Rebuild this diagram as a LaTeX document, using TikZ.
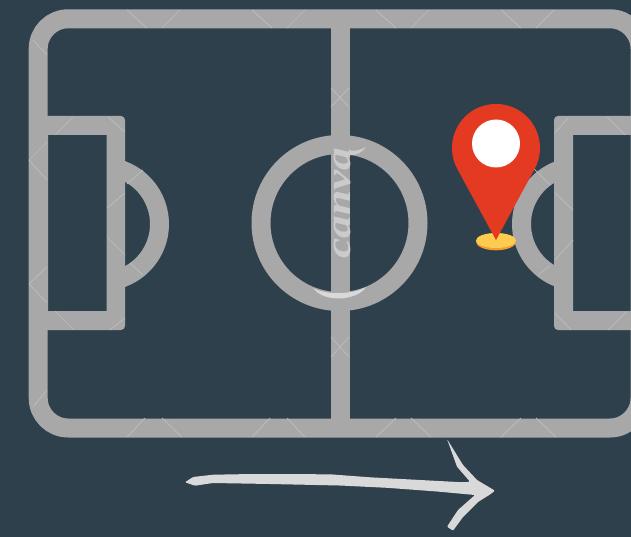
\documentclass[tikz,border=0pt]{standalone}
\usepackage{fontspec}
\newfontfamily\markfont[ItalicFont={Liberation Serif Italic},BoldItalicFont={Liberation Serif Bold Italic}]{Liberation Serif}
\definecolor{bgc}{HTML}{2F404D}
\definecolor{linec}{HTML}{A8A8A8}
\definecolor{markc}{HTML}{BEBEBE}
\definecolor{redc}{HTML}{E43A22}
\definecolor{yelc}{HTML}{FDCB4E}
\definecolor{orac}{HTML}{EFA02C}
\definecolor{chalk}{HTML}{D9D9D9}
\definecolor{wmtext}{HTML}{CBCBCB}
\tikzset{
  fieldline/.style={draw=linec,line width=19pt},
  fieldfill/.style={fill=linec,even odd rule},
  wm/.style={draw=markc,line width=0.7pt}
}
\begin{document}
\begin{tikzpicture}[x=1pt,y=1pt,yscale=-1]
\useasboundingbox (0,0) rectangle (631,537);
\clip (0,0) rectangle (631,537);
\fill[bgc] (0,0) rectangle (631,537);
% outer boundary, halfway line, centre circle
\draw[fieldline,rounded corners=30pt] (38.2,18.8) rectangle (640,428);
\draw[fieldline] (340,18.8) -- (340,428);
\draw[fieldline] (339.5,223) circle[radius=78.5];
% penalty arcs
\draw[fieldline] (102,224) ++(-76:57.5) arc (-76:76:57.5);
\draw[fieldline] (579,224) ++(104:57.5) arc (104:256:57.5);
% penalty boxes
\fill[fieldfill] [rounded corners=4pt] (38,116) -- (125,116) -- (125,330) -- (38,330) [sharp corners] -- cycle
  (48,135) rectangle (106.5,311);
\fill[fieldfill] [rounded corners=4pt] (640,116) -- (554,116) -- (554,330) -- (640,330) [sharp corners] -- cycle
  (573,135) rectangle (640,311);
% embossed diagonal marks
\foreach \a/\b/\c/\d in {
 127/10/147/28, 180/10/162/28, 252/10/272/28, 305/10/287/28,
 376/10/396/28, 429/10/411/28, 501/10/521/28, 554/10/536/28,
 145/418/127/437, 162/418/182/437, 270/418/252/437, 287/418/305/437,
 396/418/376/437, 411/418/431/437, 521/418/501/437, 536/418/556/437,
 33/40/47/55, 29/160/47/142, 29/160/47/180, 29/284/47/267, 29/284/47/303, 47/390/33/407,
 73/117/55/135, 108/117/125/132, 143/170/127/184, 125/193/107/208,
 107/237/125/255, 130/263/143/275,
 55/311/74/330, 125/318/110/330,
 331/88/349/107, 349/88/331/107, 331/337/349/357, 349/337/331/357,
 555/133/568/118, 607/117/625/135, 555/193/573/210, 573/240/555/260, 532/167/550/185,
 551/265/538/275, 555/313/571/330, 626/312/608/330}
  {\draw[wm] (\a,\b) -- (\c,\d);}
% watermark
\node[text=wmtext,font=\markfont\bfseries\itshape\fontsize{35}{35}\selectfont,rotate=90,inner sep=0pt,xscale=1.3] (mark) at (342,203) {canva};
\fill[wmtext] (349,150) .. controls (354,152) and (360,150) .. (366,147)
   .. controls (362,153) and (355,156) .. (349,155) -- cycle;
\fill[chalk] (313,288) .. controls (325,295) and (352,295) .. (366,287)
   .. controls (358,300) and (325,304) .. (313,288) -- cycle;
% pin
\fill[orac] (496,241.8) ellipse[x radius=20,y radius=8.5];
\fill[yelc] (496,240.5) ellipse[x radius=20,y radius=7.5];
\fill[redc] (496,240) -- (534.6,169) arc (28.6:-208.6:44) -- cycle;
\fill[white] (496,143.5) circle[radius=24];
% chalk arrow
\fill[chalk,rounded corners=1pt] (185,482.3) -- (193,477) -- (213,474.7) -- (253,474) -- (330,474.3) -- (370,477.3) -- (420,480) -- (463,482.3) -- (470,481.7) -- (457,466.7) -- (447,439) -- (463,465) -- (477,480) -- (495,490.7) -- (490,494.5) -- (478,502) -- (463,517) -- (453,530.7) -- (447,526.7) -- (458,510) -- (475,495) -- (437,491.5) -- (387,487.8) -- (340,485.5) -- (270,484) -- (213,483) -- (195,485.7) -- cycle;
\end{tikzpicture}
\end{document}
